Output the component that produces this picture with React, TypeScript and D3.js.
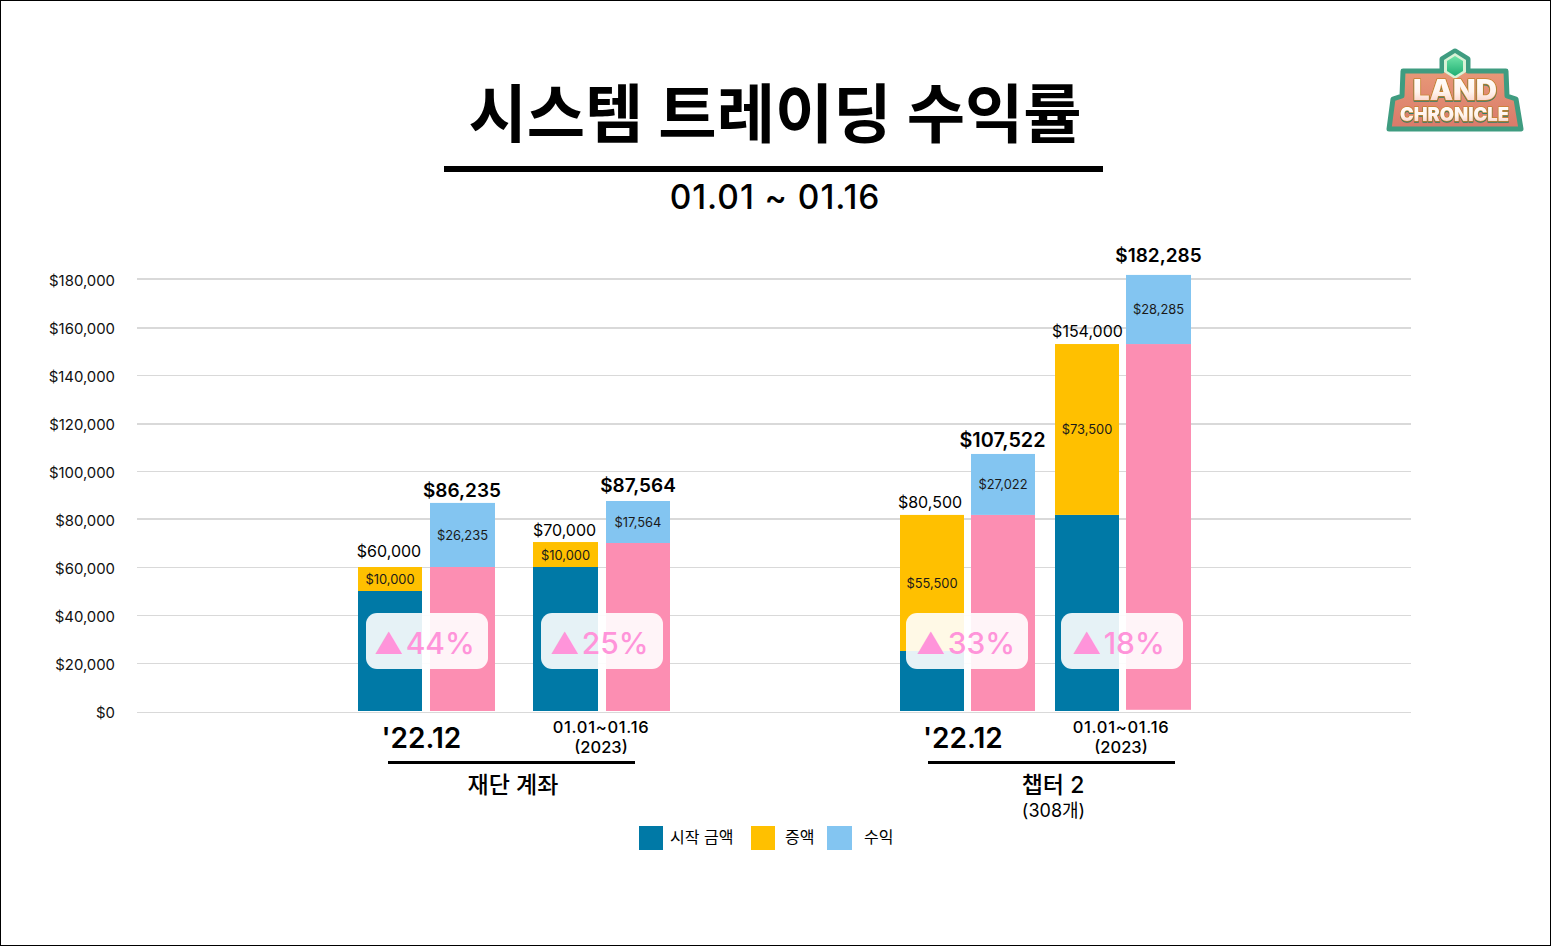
import React, { useEffect, useRef } from 'react';
import * as d3 from 'd3';

const WIDTH = 1551;
const HEIGHT = 946;
const FONT = "Inter, 'Noto Sans CJK KR', sans-serif";

const pairKeys = ['fund-22', 'fund-23', 'ch2-22', 'ch2-23'];

// 막대 높이
const startAmounts = [50000, 60000, 25000, 81700];
const addedAmounts = [10000, 10400, 56700, 71200];
const baseAmounts = [60000, 70000, 81700, 152900];
const profitAmounts = [26700, 17500, 25400, 28800];
const baseFloors = [0, 0, 0, 500];

// 막대 위에 적힌 라벨
const addedLabels = ['$10,000', '$10,000', '$55,500', '$73,500'];
const profitLabels = ['$26,235', '$17,564', '$27,022', '$28,285'];
const leftTotalLabels = ['$60,000', '$70,000', '$80,500', '$154,000'];
const rightTotalLabels = ['$86,235', '$87,564', '$107,522', '$182,285'];
const gainPercents = ['44%', '25%', '33%', '18%'];

const yTicks = [0, 20000, 40000, 60000, 80000, 100000, 120000, 140000, 160000, 180000];
const thickTicks = new Map([[180000, -0.5], [160000, 0.5], [120000, 0.5], [80000, -0.5]]);

const legendLabels = ['시작 금액', '증액', '수익'];
const COLORS = { start: '#0079a6', added: '#ffc000', profit: '#83c5f1', base: '#fc8eb2', gain: '#ff94da' };

const fmt = d3.format('$,');

const App: React.FC = () => {
  const svgRef = useRef<SVGSVGElement | null>(null);

  useEffect(() => {
    if (!svgRef.current) return;
    const svg = d3.select(svgRef.current);
    svg.selectAll('*').remove();
    svg.style('font-family', FONT);

    // 테두리
    svg.append('rect').attr('x', 0.5).attr('y', 0.5).attr('width', WIDTH - 1).attr('height', HEIGHT - 1)
      .attr('fill', '#fff').attr('stroke', '#000');

    const y = d3.scaleLinear().domain([0, 180000]).range([711, 279]);
    const ord = (r: number[]) => d3.scaleOrdinal<string, number>().domain(pairKeys).range(r);
    const leftX = ord([358, 533, 900, 1055]);
    const leftW = ord([64, 65, 64, 64]);
    const rightX = ord([430, 606, 971, 1126]);
    const rightW = ord([65, 64, 64, 65]);
    const badgeX = ord([366, 541, 906, 1061]);
    const badgeTextDx = ord([8, 9, 10, 11]);
    const leftLabelDx = ord([-1, -1, -2, 0.5]);
    const rightLabelDx = ord([-0.5, 0, -0.5, 0]);
    const leftLabelY = ord([557, 536, 508, 337]);
    const rightLabelY = ord([497, 492, 447, 262]);

    // 축
    const axis = svg.append('g').attr('transform', 'translate(137,0)')
      .call(d3.axisLeft(y).tickValues(yTicks).tickSize(-1274).tickPadding(22).offset(0.5).tickFormat(d => fmt(d as number)));
    axis.select('.domain').remove();
    axis.selectAll<SVGLineElement, number>('line')
      .attr('stroke', '#d9d9d9')
      .attr('stroke-width', d => (thickTicks.has(d) ? 2 : 1))
      .attr('transform', d => `translate(0,${thickTicks.get(d) ?? (d === 0 ? 1 : 0)})`);
    axis.selectAll('text').attr('fill', '#111').attr('dy', '0.42em').style('font-size', '14.9px').style('font-family', FONT);

    const text = (x: number, yy: number, s: string, size: number, weight = 400, anchor = 'middle', fill = '#000') =>
      svg.append('text').attr('x', x).attr('y', yy).attr('text-anchor', anchor)
        .attr('font-size', size).attr('font-weight', weight).attr('fill', fill).text(s);

    // 제목
    text(775, 137, '시스템 트레이딩 수익률', 63.4, 700);
    svg.append('rect').attr('x', 444).attr('y', 166).attr('width', 659).attr('height', 6).attr('fill', '#000');
    text(775, 209, '01.01 ~ 01.16', 33.5, 500).attr('letter-spacing', 0.95);

    // 막대
    pairKeys.forEach((k, i) => {
      const lx = leftX(k);
      const lw = leftW(k);
      const rx = rightX(k);
      const rw = rightW(k);
      const s = startAmounts[i];
      const a = addedAmounts[i];
      const b = baseAmounts[i];
      const p = profitAmounts[i];
      svg.append('rect').attr('x', lx).attr('y', y(s)).attr('width', lw).attr('height', y(0) - y(s)).attr('fill', COLORS.start);
      svg.append('rect').attr('x', lx).attr('y', y(s + a)).attr('width', lw).attr('height', y(s) - y(s + a)).attr('fill', COLORS.added);
      svg.append('rect').attr('x', rx).attr('y', y(b)).attr('width', rw).attr('height', y(baseFloors[i]) - y(b)).attr('fill', COLORS.base);
      svg.append('rect').attr('x', rx).attr('y', y(b + p)).attr('width', rw).attr('height', y(b) - y(b + p)).attr('fill', COLORS.profit);

      text(lx + lw / 2, y(s + a / 2) + 5, addedLabels[i], 12.9, 400, 'middle', '#1a1a1a');
      text(rx + rw / 2, y(b + p / 2) + 5, profitLabels[i], 12.9, 400, 'middle', '#1a1a1a');
      text(lx + lw / 2 + leftLabelDx(k), leftLabelY(k), leftTotalLabels[i], 16);
      text(rx + rw / 2 + rightLabelDx(k), rightLabelY(k), rightTotalLabels[i], i === 2 ? 19.8 : 19, 600);

      const bx = badgeX(k);
      svg.append('rect').attr('x', bx).attr('y', 613).attr('width', 122).attr('height', 56).attr('rx', 11)
        .attr('fill', '#fff').attr('fill-opacity', 0.9);
      const badge = text(bx + badgeTextDx(k), 654, '', 30, 500, 'start', COLORS.gain);
      badge.append('tspan').attr('font-size', 29).text('▲');
      badge.append('tspan').attr('dx', 2).text(gainPercents[i]);
    });

    // 그룹 라벨
    [[381.5, 601, 388, 513], [923, 1121, 928, 1053]].forEach(([lx, px, ux, nx], i) => {
      text(lx, 748, "'22.12", 28, 600, 'start');
      text(px, 733, '01.01~01.16', 16.5, 500).attr('letter-spacing', 0.7);
      text(px, 753, '(2023)', 16.5, 500);
      svg.append('rect').attr('x', ux).attr('y', 761).attr('width', 247).attr('height', 3).attr('fill', '#000');
      text(nx, 793, i === 0 ? '재단 계좌' : '챕터 2', 23, 500);
    });
    text(1053.5, 817, '(308개)', 18, 400);

    // 범례
    const legendSwatches = [COLORS.start, COLORS.added, COLORS.profit];
    const legendX = [639, 751, 827];
    const legendTextX = [670, 785, 864];
    legendLabels.forEach((l, i) => {
      svg.append('rect').attr('x', legendX[i]).attr('y', 826).attr('width', i === 2 ? 25 : 24).attr('height', 24).attr('fill', legendSwatches[i]);
      text(legendTextX[i], 843, l, 16, 400, 'start');
    });

    // 로고
    const defs = svg.append('defs');
    const grad = (id: string, stops: [number, string][]) => {
      const g = defs.append('linearGradient').attr('id', id).attr('x1', 0).attr('y1', 0).attr('x2', 0).attr('y2', 1);
      stops.forEach(([o, c]) => g.append('stop').attr('offset', o).attr('stop-color', c));
    };
    grad('logoBody', [[0, '#eda37c'], [1, '#d9796a']]);
    grad('logoText', [[0, '#ffffff'], [0.55, '#fff4ee'], [1, '#f7c4b8']]);
    grad('logoGem', [[0, '#6fe3a8'], [1, '#1fae72']]);

    const logo = svg.append('g');
    const body = '1455,51 1468,59 1468,71 1506,71 1507,96 1516,99 1521,129 1389,129 1393,99 1402,96 1403,71 1442,71 1442,59';
    logo.append('polygon').attr('points', body).attr('fill', 'url(#logoBody)')
      .attr('stroke', '#3f9c80').attr('stroke-width', 5).attr('stroke-linejoin', 'round');
    logo.append('polygon').attr('points', '1455,53 1466,60 1466,72 1455,79 1444,72 1444,60').attr('fill', '#d9f2d6');
    logo.append('polygon').attr('points', '1455,56 1463,61 1463,71 1455,76 1447,71 1447,61').attr('fill', 'url(#logoGem)');

    const logoText = (s: string, x: number, yy: number, size: number, len: number, sw: number) => {
      logo.append('text').attr('x', x).attr('y', yy).attr('font-size', size).attr('font-weight', 900)
        .attr('font-family', 'Inter').attr('textLength', len).attr('lengthAdjust', 'spacingAndGlyphs')
        .attr('fill', 'url(#logoText)').attr('stroke', '#c9812c').attr('stroke-width', sw)
        .attr('stroke-linejoin', 'round').attr('paint-order', 'stroke')
        .style('filter', 'drop-shadow(0.5px 1.5px 0 #2f7d62)').text(s);
    };
    logoText('LAND', 1413, 100, 28, 84, 1.6);
    logoText('CHRONICLE', 1400, 121, 19, 109, 1.4);
  }, []);

  return <svg ref={svgRef} width={WIDTH} height={HEIGHT} style={{ position: 'absolute', left: 0, top: 0 }} />;
};

export default App;
